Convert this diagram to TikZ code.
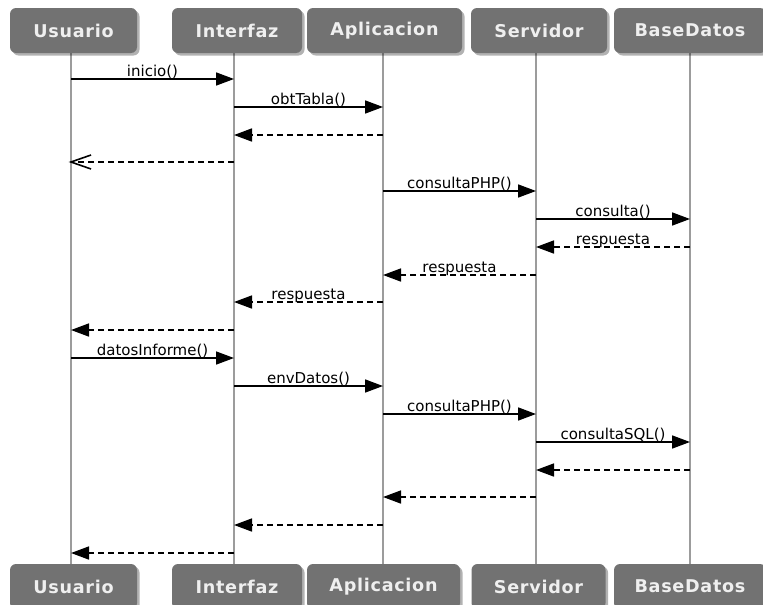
\documentclass[tikz,border=0pt]{standalone}
\usepackage{fontspec}
\setmainfont{DejaVu Sans}
\newfontfamily\headfont{DejaVu Sans}[LetterSpace=4]
\usetikzlibrary{arrows.meta,shadows}

\definecolor{boxgray}{HTML}{727272}
\definecolor{lifegray}{HTML}{9C9C9C}
\definecolor{headtext}{HTML}{EFEFEF}

\tikzset{
  actor/.style={fill=boxgray, rounded corners=6pt, minimum height=45pt,
    inner sep=0pt, text=headtext,
    font=\headfont\fontsize{17.6}{20}\selectfont\bfseries,
    drop shadow={shadow xshift=2.5pt, shadow yshift=-2.5pt, opacity=0.3, fill=black}},
  life/.style={draw=lifegray, line width=2.6pt},
  call/.style={line width=1.6pt, -{Triangle[length=18pt,width=13pt]}},
  reply/.style={line width=1.6pt, dash pattern=on 6pt off 4pt,
    -{Triangle[length=18pt,width=13pt]}},
  barb/.style={line width=1.6pt, line join=miter},
  lbl/.style={midway, anchor=base, yshift=3pt, inner sep=0pt,
    font=\fontsize{15}{17}\selectfont},
}

% synchronous call and return messages between lifelines
\newcommand\callmsg[4]{\draw[call] (#1 |- 0,#3) -- node[lbl]{#4} (#2 |- 0,#3);}
\newcommand\replymsg[4]{\draw[reply] (#1 |- 0,#3) -- node[lbl]{#4} (#2 |- 0,#3);}

\begin{document}
\begin{tikzpicture}[x=1pt, y=-1pt]
  \clip (0,0) rectangle (763,605);
  \fill[white] (0,0) rectangle (763,605);

  % lifelines
  \coordinate (U) at (71,53);
  \coordinate (I) at (234,53);
  \coordinate (A) at (383,53);
  \coordinate (S) at (536,53);
  \coordinate (B) at (690,53);
  \foreach \p in {U,I,A,S,B}
    \draw[life] (\p) -- (\p |- 0,566);

  % participants, top row
  \node[actor, minimum width=127pt] (Ut) at (73.5,30.5) {Usuario};
  \node[actor, minimum width=130pt] (It) at (237,30.5) {Interfaz};
  \node[actor, minimum width=155pt] (At) at (384.5,30.5) {Aplicacion};
  \node[actor, minimum width=136pt] (St) at (539,30.5) {Servidor};
  \node[actor, minimum width=152pt] (Bt) at (690,30.5) {BaseDatos};

  % participants, bottom row
  \node[actor, minimum width=127pt] (Ub) at (73.5,586.5) {Usuario};
  \node[actor, minimum width=130pt] (Ib) at (237,586.5) {Interfaz};
  \node[actor, minimum width=153pt] (Ab) at (383.5,586.5) {Aplicacion};
  \node[actor, minimum width=134pt] (Sb) at (538.5,586.5) {Servidor};
  \node[actor, minimum width=152pt] (Bb) at (690,586.5) {BaseDatos};

  % messages
  \callmsg{U}{I}{79}{inicio()}
  \callmsg{I}{A}{107}{obtTabla()}
  \replymsg{A}{I}{135}{}
  % asynchronous return with an open arrowhead
  \coordinate (r4) at (U |- 0,162);
  \draw[line width=1.6pt, dash pattern=on 6pt off 4pt] (I |- 0,162) -- ([xshift=2pt]r4);
  \draw[barb] ([shift={(20,-7)}]r4) -- (r4) -- ([shift={(20,7)}]r4);
  \callmsg{A}{S}{191}{consultaPHP()}
  \callmsg{S}{B}{219}{consulta()}
  \replymsg{B}{S}{247}{respuesta}
  \replymsg{S}{A}{275}{respuesta}
  \replymsg{A}{I}{302}{respuesta}
  \replymsg{I}{U}{330}{}
  \callmsg{U}{I}{358}{datosInforme()}
  \callmsg{I}{A}{386}{envDatos()}
  \callmsg{A}{S}{414}{consultaPHP()}
  \callmsg{S}{B}{442}{consultaSQL()}
  \replymsg{B}{S}{470}{}
  \replymsg{S}{A}{497}{}
  \replymsg{A}{I}{525}{}
  \replymsg{I}{U}{553}{}
\end{tikzpicture}
\end{document}
